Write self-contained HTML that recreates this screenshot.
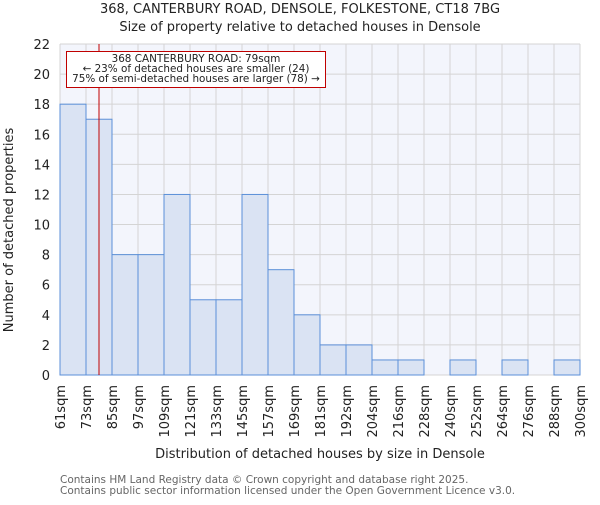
<!DOCTYPE html>
<html><head><meta charset="utf-8"><style>
body{margin:0;background:#fff;}
svg text{font-family:"DejaVu Sans","Liberation Sans",sans-serif;}
</style></head><body>
<svg id="chart" width="600" height="500" xmlns="http://www.w3.org/2000/svg">
<text x="300" y="13" text-anchor="middle" font-size="13" fill="#222">368, CANTERBURY ROAD, DENSOLE, FOLKESTONE, CT18 7BG</text>
<text x="300" y="31" text-anchor="middle" font-size="13" fill="#222">Size of property relative to detached houses in Densole</text>
<rect x="60" y="44" width="520" height="331" fill="#f3f5fc"/>
<g id="grid"></g><g id="bars"></g><g id="xt"></g><g id="yt"></g>
<text transform="translate(13,230) rotate(-90)" text-anchor="middle" font-size="13" fill="#222">Number of detached properties</text>
<text x="320" y="458" text-anchor="middle" font-size="13" fill="#222">Distribution of detached houses by size in Densole</text>
<text x="60" y="483" font-size="10.5" fill="#666">Contains HM Land Registry data © Crown copyright and database right 2025.</text>
<text x="60" y="494" font-size="10.5" fill="#666">Contains public sector information licensed under the Open Government Licence v3.0.</text>
<g id="ann"></g>
</svg>
<script>
const categories=["61sqm","73sqm","85sqm","97sqm","109sqm","121sqm","133sqm","145sqm","157sqm","169sqm","181sqm","192sqm","204sqm","216sqm","228sqm","240sqm","252sqm","264sqm","276sqm","288sqm","300sqm"];
const counts=[18,17,8,8,12,5,5,12,7,4,2,2,1,1,0,1,0,1,0,1];
const yTicks=[0,2,4,6,8,10,12,14,16,18,20,22];
const propertySize=79;
const binStart=61, binWidth=12;
const NS="http://www.w3.org/2000/svg";
const X0=60,X1=580,Y0=375,Y1=44,YMAX=22;
const n=counts.length, bw=(X1-X0)/n;
const xb=i=>X0+i*bw;
const y=v=>Y0-(v/YMAX)*(Y0-Y1);
const xv=s=>X0+((s-binStart)/binWidth)*bw;
function mk(t,a,p){const e=document.createElementNS(NS,t);for(const k in a)e.setAttribute(k,a[k]);p.appendChild(e);return e;}
const grid=document.getElementById('grid'),bars=document.getElementById('bars'),xt=document.getElementById('xt'),yt=document.getElementById('yt');
yTicks.forEach(v=>{
 const l=mk('line',{x1:X0,x2:X1,y1:y(v),y2:y(v),stroke:'#d4d4d4','stroke-width':1},grid);
 
 
 const t=mk('text',{x:50,y:y(v)+5,'text-anchor':'end','font-size':13,fill:'#222'},yt);
 t.textContent=v;
 
 
});
categories.forEach((c,i)=>{
 const l=mk('line',{x1:xb(i),x2:xb(i),y1:Y1,y2:Y0,stroke:'#d4d4d4','stroke-width':1},grid);
 
 
 const t=mk('text',{transform:`translate(${xb(i)+5},385) rotate(-90)`,'text-anchor':'end','font-size':13,fill:'#222'},xt);
 t.textContent=c;
 
 
});
counts.forEach((v,i)=>{
 if(v<=0)return;
 const r=mk('rect',{x:xb(i),y:y(v),width:bw,height:Y0-y(v),fill:'#dae3f3',stroke:'#5b8fd8','stroke-width':1},bars);
 
 
});
const ann=document.getElementById('ann');
const pl=mk('line',{x1:xv(propertySize),x2:xv(propertySize),y1:Y1,y2:Y0,stroke:'#c00000','stroke-width':1},ann);


const box=mk('rect',{x:66.5,y:51.5,width:259,height:36,fill:'#fff',stroke:'#c00000','stroke-width':1},ann);


["368 CANTERBURY ROAD: 79sqm","← 23% of detached houses are smaller (24)","75% of semi-detached houses are larger (78) →"].forEach((s,i)=>{
 const t=mk('text',{x:196,y:62+i*10,'text-anchor':'middle','font-size':10.4,fill:'#222'},ann);
 t.textContent=s;
 
 
});
</script>
</body></html>
